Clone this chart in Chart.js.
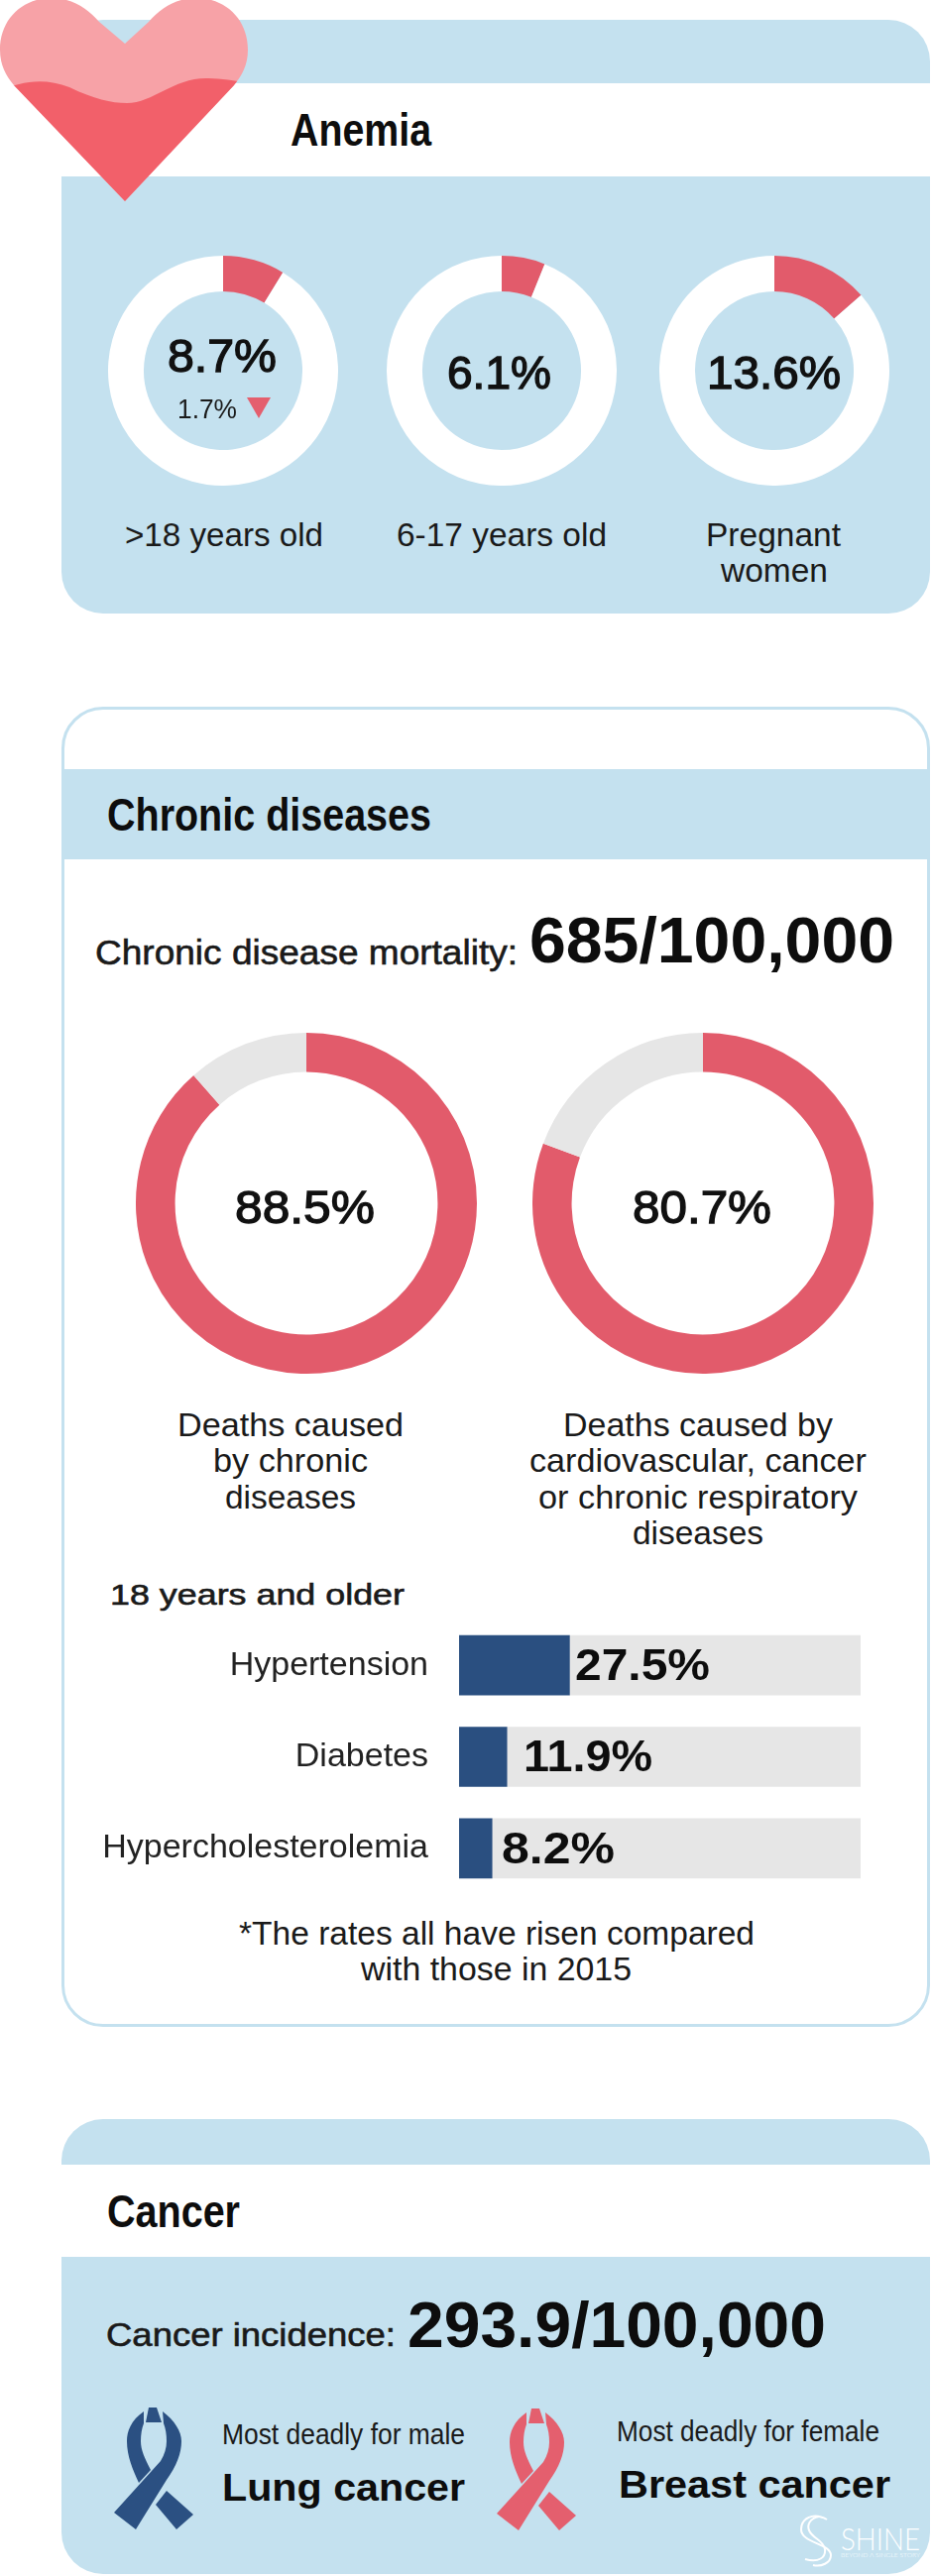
<!DOCTYPE html>
<html>
<head>
<meta charset="utf-8">
<title>Anemia, chronic diseases and cancer</title>
<script src="https://cdn.jsdelivr.net/npm/chart.js@4"></script>
<style>
	html, body {margin: 0; padding: 0; background: #fff;}
	#page {position: relative; width: 940px; height: 2599px; overflow: hidden; font-family: "Liberation Sans", Arial, sans-serif; color: #1a1a1a;}
	.box {position: absolute;}
	canvas {position: absolute; display: block;}
	svg {position: absolute; left: 0; top: 0;}
	.txt {position: absolute; line-height: 1; white-space: nowrap; transform-origin: 0 0;}
</style>
</head>
<body>
<div id="page">
	<!-- anemia panel -->
	<div class="box" style="left:62px;top:20px;width:876px;height:599px;background:#c4e1ef;border-radius:42px"></div>
	<div class="box" style="left:62px;top:84px;width:878px;height:94px;background:#fff"></div>
	<!-- chronic panel -->
	<div class="box" style="left:62px;top:713px;width:876px;height:1332px;box-sizing:border-box;border:3px solid #c4e1ef;border-radius:42px"></div>
	<div class="box" style="left:62px;top:776px;width:876px;height:91px;background:#c4e1ef"></div>
	<!-- cancer panel -->
	<div class="box" style="left:62px;top:2138px;width:876px;height:459px;background:#c4e1ef;border-radius:42px"></div>
	<div class="box" style="left:62px;top:2184px;width:878px;height:93px;background:#fff"></div>

	<svg width="940" height="2599" viewBox="0 0 940 2599">
		<defs>
			<clipPath id="heart-clip"><path id="heart-shape" d="M126 44 L100 22 C88 8 72 -2 52 -2 C22 -2 0 20 0 50 C0 66 6 76 14 86 L126 203 L236 86 C244 76 250 66 250 50 C250 20 228 -2 198 -2 C178 -2 162 8 150 22 Z"/></clipPath>
			<g id="ribbon">
				<path d="M50 9 L58 9 L63 24 L47 24 Z"/>
				<path d="M45 13 C32 22 28 33 28 43 C28 58 34 72 40 85 L52 72 C46 60 42 52 42 43 C42 36 43 30 45 25 Z"/>
				<path d="M64 13 C76 22 83 33 83 43 C83 55 78 68 68 82 L37 132 L15 115 L62 63 C66 56 68 50 68 43 C68 36 67 30 65 25 Z"/>
				<path d="M68 93 L95 117 L78 132 L57 107 Z"/>
			</g>
		</defs>
		<!-- heart -->
		<g clip-path="url(#heart-clip)">
			<rect x="0" y="-2" width="252" height="210" fill="#f7a2a7"/>
			<path fill="#f2606a" d="M0 92 C20 82 45 78 70 88 C95 100 112 104 128 104 C155 104 175 78 210 79 C225 79 240 82 255 85 L255 210 L0 210 Z"/>
		</g>
		<!-- ribbons -->
		<use href="#ribbon" x="100" y="2420" fill="#2b5082"/>
		<use href="#ribbon" x="486" y="2421" fill="#e45f6e"/>
		<!-- logo mark -->
		<path fill="none" stroke="#fff" stroke-width="2" d="M834 2542 C820 2534 808 2541 808 2552 C808 2566 838 2566 838 2578 C838 2586 828 2590 820 2588"/>
		<path fill="none" stroke="#fff" stroke-width="2" d="M826 2539 C816 2541 814 2548 816 2553 C820 2562 830 2562 832 2572 C833 2580 826 2586 812 2582"/>
		<!-- small down triangle next to 1.7% -->
		<path fill="#e45f6e" d="M249 401 L273 401 L261 422 Z"/>
	</svg>

	<canvas id="anemia-0" class="donut"></canvas>
	<canvas id="anemia-1" class="donut"></canvas>
	<canvas id="anemia-2" class="donut"></canvas>
	<canvas id="chronic-0" class="donut"></canvas>
	<canvas id="chronic-1" class="donut"></canvas>
	<canvas id="risk-chart"></canvas>
</div>

<script>
	const anemia_groups = [">18 years old", "6-17 years old", "Pregnant", "women"];
	const anemia_rates = [8.7, 6.1, 13.6];
	const anemia_change = 1.7;

	const chronic_caption_a = ["Deaths caused", "by chronic", "diseases"];
	const chronic_caption_b = ["Deaths caused by", "cardiovascular, cancer", "or chronic respiratory", "diseases"];
	const chronic_rates = [88.5, 80.7];

	const risk_labels = ["Hypertension", "Diabetes", "Hypercholesterolemia"];
	const risk_rates = [27.5, 11.9, 8.2];

	const page = document.getElementById("page");
	const red = "#e25b6b";
	const grey = "#e6e6e6";
	const navy = "#2a4f80";

	Chart.defaults.animation = false;
	Chart.defaults.font.family = '"Liberation Sans", Arial, sans-serif';

	// text goes on by its baseline and gets squeezed to the width it has in the picture
	function put_text(text, x, baseline, width, size, style) {
		const el = document.createElement("span");
		el.className = "txt";
		el.textContent = text;
		el.style.fontSize = size + "px";
		el.style.left = x + "px";
		el.style.top = (baseline - 0.8465 * size) + "px";
		if (style) {
			Object.assign(el.style, style);
		}
		page.appendChild(el);
		el.style.transform = `scaleX(${width / el.getBoundingClientRect().width})`;
		return el;
	}

	const bold = {fontWeight: "bold", color: "#0d0d0d"};
	const medium = {webkitTextStroke: "1.3px #111", color: "#111"};
	const semi = {webkitTextStroke: "0.6px #1a1a1a"};
	const logo = {color: "#fff", fontFamily: "Lato, sans-serif", fontWeight: "300"};

	function donut_chart(id, left, top, radius, cutout, rate, color, rest) {
		const el = document.getElementById(id);
		el.width = radius * 2;
		el.height = radius * 2;
		el.style.left = left - radius + "px";
		el.style.top = top - radius + "px";
		return new Chart(el, {
			type: "doughnut",
			data: {
				datasets: [{
					data: [rate, 100 - rate],
					backgroundColor: [color, rest],
					borderWidth: 0
				}]
			},
			options: {
				responsive: false,
				cutout: cutout,
				plugins: {legend: {display: false}, tooltip: {enabled: false}}
			}
		});
	}

	donut_chart("anemia-0", 225, 374, 116, "69%", anemia_rates[0], red, "#fff");
	donut_chart("anemia-1", 506, 374, 116, "69%", anemia_rates[1], red, "#fff");
	donut_chart("anemia-2", 781, 374, 116, "69%", anemia_rates[2], red, "#fff");
	donut_chart("chronic-0", 309, 1214, 172, "77%", chronic_rates[0], red, grey);
	donut_chart("chronic-1", 709, 1214, 172, "77%", chronic_rates[1], red, grey);

	// plot area is set so 0 and 100 land on the grey track ends
	const risk_el = document.getElementById("risk-chart");
	risk_el.width = 876;
	risk_el.height = 277;
	risk_el.style.left = "62px";
	risk_el.style.top = "1634px";
	const risk_chart = new Chart(risk_el, {
		type: "bar",
		data: {
			labels: risk_labels,
			datasets: [
				{data: risk_rates, backgroundColor: navy, barThickness: 60, stack: "a"},
				{data: risk_rates.map(v => 100 - v), backgroundColor: grey, barThickness: 60, stack: "a"}
			]
		},
		options: {
			responsive: false,
			indexAxis: "y",
			layout: {padding: {right: 70}},
			scales: {
				x: {display: false, stacked: true, min: 0, max: 100},
				y: {
					stacked: true,
					afterFit: (scale) => {
						// tick padding would otherwise eat the plot height as well
						scale.width = 401;
						scale.paddingTop = 0;
						scale.paddingBottom = 0;
					},
					grid: {display: false, drawTicks: false},
					border: {display: false},
					ticks: {
						padding: 31,
						color: "#222",
						font: {size: 34}
					}
				}
			},
			plugins: {legend: {display: false}, tooltip: {enabled: false}}
		}
	});

	// headers
	put_text("Anemia", 293, 147, 142, 46, bold);
	put_text("Chronic diseases", 108, 838, 327, 46, bold);
	put_text("Cancer", 108, 2247, 134, 46, bold);

	// anemia text
	put_text(`${anemia_rates[0]}%`, 169, 375, 110, 46, medium);
	put_text(`${anemia_change}%`, 179, 423, 60, 27);
	put_text(`${anemia_rates[1]}%`, 451, 392, 105, 46, medium);
	put_text(`${anemia_rates[2]}%`, 713, 392, 135, 46, medium);
	put_text(anemia_groups[0], 126, 551, 200, 33);
	put_text(anemia_groups[1], 400, 551, 212, 33);
	put_text(anemia_groups[2], 712, 551, 136, 33);
	put_text(anemia_groups[3], 727, 587, 108, 33);

	// chronic text
	put_text("Chronic disease mortality:", 96, 973, 426, 35, semi);
	put_text("685/100,000", 534, 971, 368, 64, bold);
	put_text(`${chronic_rates[0]}%`, 237, 1234, 141, 47, medium);
	put_text(`${chronic_rates[1]}%`, 638, 1234, 140, 47, medium);
	put_text(chronic_caption_a[0], 179, 1449, 228, 33);
	put_text(chronic_caption_a[1], 215, 1485, 156, 33);
	put_text(chronic_caption_a[2], 227, 1522, 132, 33);
	put_text(chronic_caption_b[0], 568, 1449, 272, 33);
	put_text(chronic_caption_b[1], 534, 1485, 340, 33);
	put_text(chronic_caption_b[2], 543, 1522, 322, 33);
	put_text(chronic_caption_b[3], 638, 1558, 132, 33);
	put_text("18 years and older", 111, 1619, 297, 30, semi);
	put_text("*The rates all have risen compared", 241, 1962, 520, 34);
	put_text("with those in 2015", 364, 1998, 273, 34);

	// value labels hang off the end of each bar, read through the chart's own scales
	const label_gap = [6, 17, 10];
	const label_width = [136, 130, 114];
	const label_base = [1695, 1787, 1880];
	risk_rates.forEach((rate, i) => {
		const x = 62 + risk_chart.scales.x.getPixelForValue(rate) + label_gap[i];
		put_text(`${rate}%`, x, label_base[i], label_width[i], 45, bold);
	});

	// cancer text
	put_text("Cancer incidence:", 107, 2367, 292, 34, semi);
	put_text("293.9/100,000", 411, 2368, 422, 64, bold);
	put_text("Most deadly for male", 224, 2467, 245, 29);
	put_text("Lung cancer", 224, 2523, 245, 39, bold);
	put_text("Most deadly for female", 622, 2464, 265, 29);
	put_text("Breast cancer", 624, 2520, 274, 39, bold);
	put_text("SHINE", 848, 2572, 80, 32, logo);
	put_text("BEYOND A SINGLE STORY", 848, 2581, 80, 6.5, logo);
</script>
</body>
</html>
